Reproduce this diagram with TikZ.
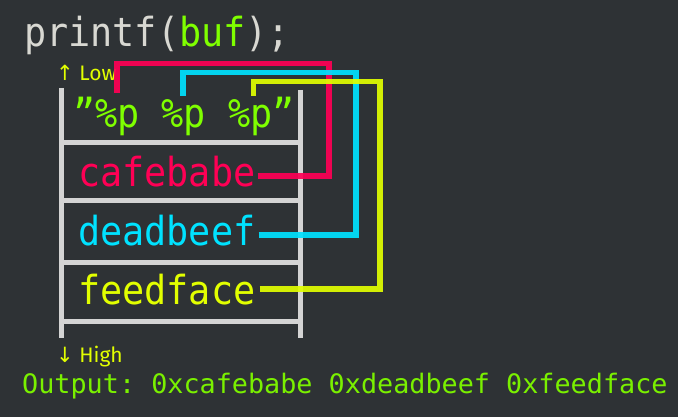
\documentclass[tikz,border=0pt]{standalone}
\usepackage{fontspec}
\setmainfont{Fira Sans}
\setmonofont{DejaVu Sans Mono}
\newfontfamily\bigmono[FakeStretch=0.92]{DejaVu Sans Mono}
\newfontfamily\arrowfont{DejaVu Sans}

\definecolor{bgdark}{HTML}{2E3235}
\definecolor{codegray}{HTML}{D8D8D2}
\definecolor{railgray}{HTML}{D4D4D4}
\definecolor{fmtgreen}{HTML}{7FFF00}
\definecolor{outgreen}{HTML}{7AF000}
\definecolor{wirered}{HTML}{FF0055}
\definecolor{wirecyan}{HTML}{00E2FF}
\definecolor{wireyellow}{HTML}{E2FF00}

\tikzset{
  code/.style={anchor=base west, inner sep=0pt, font=\bigmono\fontsize{40}{40}\selectfont},
  side/.style={anchor=base west, inner sep=0pt, text=wireyellow, font=\fontsize{21}{21}\selectfont},
  rail/.style={line width=5pt, draw=railgray},
  wire/.style={line width=5.5pt, opacity=0.92},
}

\begin{document}
\begin{tikzpicture}[x=1pt,y=-1pt]
  \fill[bgdark] (0,0) rectangle (678,417);
  \useasboundingbox (0,0) rectangle (678,417);

  % the call
  \node[code, text=codegray] (call) at (24,47) {printf(\textcolor{fmtgreen}{buf});};

  % stack frame
  \draw[rail] (61,88) -- (61,338);
  \draw[rail] (300,90) -- (300,338);
  \foreach \y in {143,201,262,321}
    \draw[rail] (61,\y) -- (300,\y);

  \node[side] (low) at (56,81) {{\arrowfont ↑} Low};
  \node[side] (high) at (56,362) {{\arrowfont ↓} High};

  % stack contents
  \node[code, text=fmtgreen] (fmt) at (73,128) {”\%p \%p \%p”};
  \node[code, text=wirered] (cafe) at (78,186) {cafebabe};
  \node[code, text=wirecyan] (dead) at (78,245) {deadbeef};
  \node[code, text=wireyellow] (feed) at (78,304) {feedface};

  % where each %p reads from
  \coordinate (p1) at (117,93);
  \coordinate (p2) at (183,96);
  \coordinate (p3) at (253.5,96);
  \coordinate (c1) at (329,63.5);
  \coordinate (c2) at (356,72.5);
  \coordinate (c3) at (380,81.5);

  \draw[wire, wirered] (cafe.base east) ++(2,-10) -| (c1) -| (p1);
  \draw[wire, wirecyan] (dead.base east) ++(3,-10) -| (c2) -| (p2);
  \draw[wire, wireyellow] (feed.base east) ++(4,-15) -| (c3) -| (p3);

  \node[anchor=base west, inner sep=0pt, text=outgreen, font=\ttfamily\fontsize{26.8}{27}\selectfont]
    (out) at (22,393) {Output: 0xcafebabe 0xdeadbeef 0xfeedface};
\end{tikzpicture}
\end{document}
